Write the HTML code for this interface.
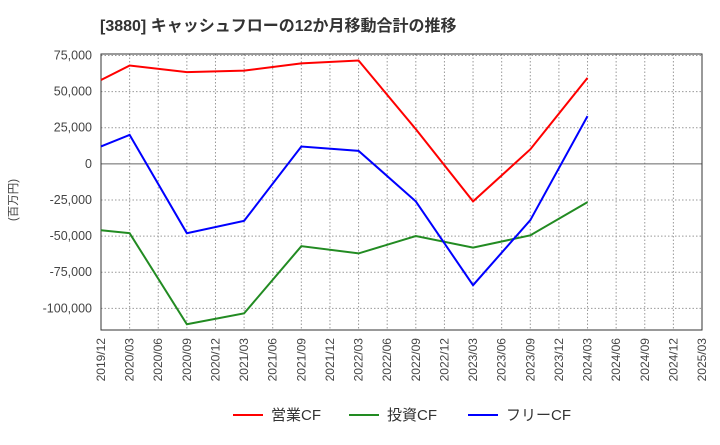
<!DOCTYPE html>
<html><head><meta charset="utf-8"><style>
body{margin:0;background:#fff;font-family:"Liberation Sans","Noto Sans CJK JP",sans-serif}
</style></head><body>
<svg id="c" width="720" height="440" xmlns="http://www.w3.org/2000/svg"></svg>
<script>
const xLabels=["2019/12","2020/03","2020/06","2020/09","2020/12","2021/03","2021/06","2021/09","2021/12","2022/03","2022/06","2022/09","2022/12","2023/03","2023/06","2023/09","2023/12","2024/03","2024/06","2024/09","2024/12","2025/03"];
const dataIdx=[0,1,3,5,7,9,11,13,15,17];
const opCF=[58000,68000,63500,64500,69500,71500,24000,-26000,10000,59500];
const invCF=[-46000,-48000,-111000,-103500,-57000,-62000,-50000,-58000,-49500,-26500];
const freeCF=[12000,20000,-48000,-39500,12000,9000,-26000,-84000,-39000,33000];
const yTicks=[75000,50000,25000,0,-25000,-50000,-75000,-100000];
const L=101,R=702,T=54,B=330,yMax=76000,yMin=-115000;
const X=i=>L+(R-L)*i/(xLabels.length-1);
const Y=v=>T+(yMax-v)/(yMax-yMin)*(B-T);
const s=document.getElementById('c');const NS="http://www.w3.org/2000/svg";
function mk(t,a,p){const e=document.createElementNS(NS,t);for(const k in a)e.setAttribute(k,a[k]);(p||s).appendChild(e);return e;}
let e=mk('text',{x:100,y:31,'font-size':16,'font-weight':'bold',fill:'#333'});e.textContent="[3880]  キャッシュフローの12か月移動合計の推移";


xLabels.forEach((l,i)=>{const x=X(i);
 e=mk('line',{x1:x,x2:x,y1:T,y2:B,stroke:'#999','stroke-dasharray':'1.5,2','stroke-width':1});
 
 
 e=mk('text',{x:0,y:0,'font-size':12,fill:'#444','text-anchor':'end',transform:`translate(${x+4},${B+8}) rotate(-90)`});e.textContent=l;
 
 
});
yTicks.forEach(v=>{const y=Y(v);
 e=mk('line',{x1:L,x2:R,y1:y,y2:y,stroke:v===0?'#666':'#999','stroke-dasharray':v===0?'':'1.5,2','stroke-width':1});
 
 
 e=mk('text',{x:92,y:y+4,'font-size':12.5,fill:'#444','text-anchor':'end'});e.textContent=v.toLocaleString('en-US');
 
 
});
e=mk('rect',{x:L,y:T,width:R-L,height:B-T,fill:'none',stroke:'#333','stroke-width':1});


e=mk('text',{x:0,y:0,'font-size':11.5,fill:'#444','text-anchor':'middle',transform:'translate(17,200) rotate(-90)'});e.textContent="(百万円)";


const series=[[opCF,'#ff0000','operating-cf-line','営業CF'],[invCF,'#228b22','investing-cf-line','投資CF'],[freeCF,'#0000ff','free-cf-line','フリーCF']];
series.forEach(([d,c,n])=>{
 e=mk('polyline',{points:d.map((v,i)=>X(dataIdx[i])+','+Y(v)).join(' '),fill:'none',stroke:c,'stroke-width':2});
 
 
});
const lx=[233,349,468];
series.forEach(([d,c,n,l],k)=>{
 const g=mk('g',{});
 
 
 mk('line',{x1:lx[k],x2:lx[k]+30,y1:415,y2:415,stroke:c,'stroke-width':2},g);
 const t=mk('text',{x:lx[k]+38,y:420,'font-size':15,fill:'#333'},g);t.textContent=l;
});
</script>
</body></html>
